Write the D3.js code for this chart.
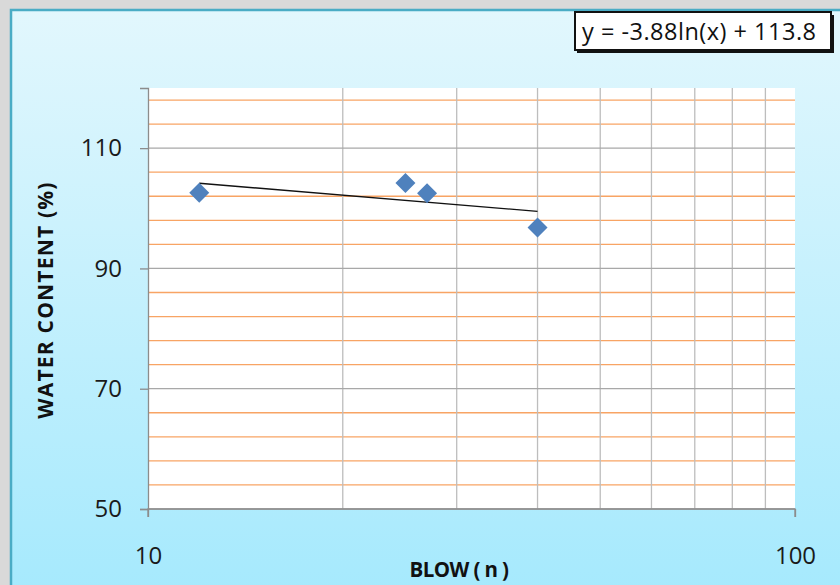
<!DOCTYPE html>
<html>
<head>
<meta charset="utf-8">
<script src="https://cdn.jsdelivr.net/npm/d3@7"></script>
<style>
  body { margin: 0; background: #d9d9d9; }
  svg { display: block; }
  .tick text { font-family: "Open Sans", "Liberation Sans", sans-serif; }
</style>
</head>
<body>
<svg id="chart" width="840" height="585"></svg>
<script>
// blow counts and water content
const blows = [12, 25, 27, 40];
const waterContent = [102.6, 104.2, 102.5, 96.8];

// trendline y = a ln(x) + b, as printed on the chart
const trendA = -3.88;
const trendB = 113.8;
const trendLabel = 'y = -3.88ln(x) + 113.8';

const yMajorTicks = [50, 70, 90, 110];
const yMinorTicks = [54, 58, 62, 66, 74, 78, 82, 86, 94, 98, 102, 106, 114, 118];
const xTicks = [10, 100];
const xGridTicks = [20, 30, 40, 50, 60, 70, 80, 90];

const svg = d3.select('#chart');

// frame with gradient fill
const defs = svg.append('defs');
const grad = defs.append('linearGradient')
    .attr('id', 'bg').attr('x1', 0).attr('y1', 0).attr('x2', 0).attr('y2', 1);
grad.append('stop').attr('offset', '0%').attr('stop-color', '#e2f7fd');
grad.append('stop').attr('offset', '100%').attr('stop-color', '#a4e9fd');

svg.append('rect')
    .attr('x', 11).attr('y', 10)
    .attr('width', 840).attr('height', 600)
    .attr('fill', 'url(#bg)')
    .attr('stroke', '#4aacc5')
    .attr('stroke-width', 2.5);

const plot = {left: 148, top: 88, right: 795, bottom: 509};

const x = d3.scaleLog()
    .domain([10, 100])
    .range([plot.left, plot.right]);

const y = d3.scaleLinear()
    .domain([50, 120])
    .range([plot.bottom, plot.top]);

// plot area
svg.append('rect')
    .attr('x', plot.left).attr('y', plot.top)
    .attr('width', plot.right - plot.left)
    .attr('height', plot.bottom - plot.top)
    .attr('fill', '#ffffff');

// minor horizontal grid (orange)
svg.append('g')
    .selectAll('line')
    .data(yMinorTicks)
    .join('line')
    .attr('x1', plot.left).attr('x2', plot.right)
    .attr('y1', d => y(d)).attr('y2', d => y(d))
    .attr('stroke', '#f8a464')
    .attr('stroke-width', 1.3);

// vertical grid
svg.append('g')
    .selectAll('line')
    .data(xGridTicks)
    .join('line')
    .attr('x1', d => x(d)).attr('x2', d => x(d))
    .attr('y1', plot.top).attr('y2', plot.bottom)
    .attr('stroke', '#bdbdbd')
    .attr('stroke-width', 1.3);

// major horizontal grid
svg.append('g')
    .selectAll('line')
    .data(yMajorTicks)
    .join('line')
    .attr('x1', plot.left).attr('x2', plot.right)
    .attr('y1', d => y(d)).attr('y2', d => y(d))
    .attr('stroke', '#a8a8a8')
    .attr('stroke-width', 1.3);

// axes
const yAxis = svg.append('g')
    .attr('transform', `translate(${plot.left},0)`)
    .call(d3.axisLeft(y).tickValues(yMajorTicks).tickSize(8).tickPadding(18));

const xAxis = svg.append('g')
    .attr('transform', `translate(0,${plot.bottom})`)
    .call(d3.axisBottom(x).tickValues(xTicks).tickFormat(d3.format('d')).tickSize(8).tickPadding(30));

[yAxis, xAxis].forEach(g => {
    g.select('.domain').attr('stroke', '#8c8c8c').attr('stroke-width', 1.3);
    g.selectAll('.tick line').attr('stroke', '#8c8c8c').attr('stroke-width', 1.3);
    g.selectAll('.tick text')
        .attr('fill', '#1a1a1a')
        .style('font-size', '24px');
});
xAxis.select('.domain').attr('d', `M${plot.left},8V0H${plot.right}V8`);

// trendline (straight on a log axis)
const trendX = d3.extent(blows);
const trendPts = trendX.map(v => [v, trendA * Math.log(v) + trendB]);
svg.append('path')
    .attr('d', d3.line().x(d => x(d[0])).y(d => y(d[1]))(trendPts))
    .attr('fill', 'none')
    .attr('stroke', '#111111')
    .attr('stroke-width', 1.4);

// points
const points = blows.map((b, i) => ({b, w: waterContent[i]}));
svg.append('g')
    .selectAll('path')
    .data(points)
    .join('path')
    .attr('transform', d => `translate(${x(d.b)},${y(d.w)}) rotate(45)`)
    .attr('d', d3.symbol(d3.symbolSquare, 200)())
    .attr('fill', '#4f81bd');

// equation box
svg.append('rect')
    .attr('x', 577).attr('y', 15)
    .attr('width', 257).attr('height', 38)
    .attr('fill', '#111');
svg.append('rect')
    .attr('x', 575).attr('y', 12)
    .attr('width', 256).attr('height', 38)
    .attr('fill', '#ffffff')
    .attr('stroke', '#111')
    .attr('stroke-width', 2);
svg.append('text')
    .attr('x', 582).attr('y', 40)
    .style('font-family', '"Open Sans", "Liberation Sans", sans-serif')
    .style('font-size', '23.5px')
    .style('letter-spacing', '0.5px')
    .attr('fill', '#111')
    .text(trendLabel);

// axis titles
svg.append('text')
    .attr('x', 459).attr('y', 577)
    .attr('text-anchor', 'middle')
    .style('font-family', '"Open Sans", "Liberation Sans", sans-serif')
    .style('font-size', '20.5px')
    .style('letter-spacing', '-0.6px')
    .style('font-weight', 'bold')
    .attr('fill', '#111')
    .text('BLOW ( n )');

svg.append('text')
    .attr('transform', 'translate(53,300) rotate(-90)')
    .attr('text-anchor', 'middle')
    .style('font-family', '"Open Sans", "Liberation Sans", sans-serif')
    .style('font-size', '21px')
    .style('letter-spacing', '1.2px')
    .style('font-weight', 'bold')
    .attr('fill', '#111')
    .text('WATER CONTENT (%)');
</script>
</body>
</html>
